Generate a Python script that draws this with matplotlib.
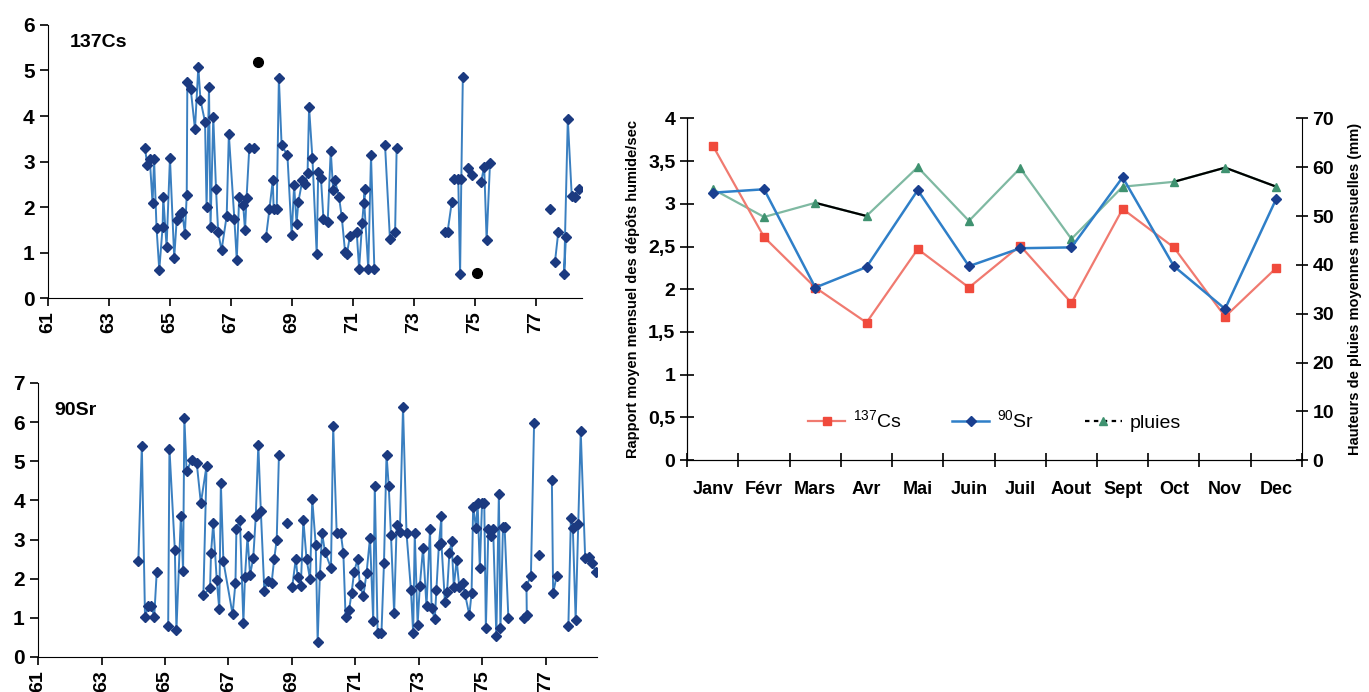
import numpy as np
import matplotlib.pyplot as plt
from matplotlib.lines import Line2D

plt.rcParams['font.family'] = ['Liberation Sans', 'DejaVu Sans']
plt.rcParams['font.weight'] = 'bold'

nan = np.nan

# --- 137Cs time series (year, ratio); nan breaks the line
cs_years = [64.18, 64.26, 64.34, 64.43, 64.48, 64.56, 64.65, 64.76, 64.78, 64.89,
            65.0, 65.14, 65.22, 65.33, 65.4, 65.49, 65.55, 65.57, 65.68, 65.82,
            65.93, 66.0, 66.15, 66.2, 66.28, 66.33, 66.42, 66.51, 66.58, 66.69,
            66.86, 66.93, 67.11, 67.19, 67.27, 67.4, 67.46, 67.51, 67.6, 67.75,
            67.8,
            68.15, 68.26, 68.37, 68.4, 68.5, 68.57, 68.66, 68.85, 68.99, 69.07,
            69.15, 69.21, 69.34, 69.42, 69.51, 69.56, 69.67, 69.81, 69.86, 69.95,
            70.03, 70.17, 70.27, 70.35, 70.4, 70.54, 70.63, 70.74, 70.8, 70.9,
            71.12, 71.2, 71.3, 71.39, 71.37, 71.5, 71.59, 71.7,
            71.9,
            72.05, 72.21, 72.38, 72.43,
            73.2,
            74.02, 74.1, 74.24,
            74.28,
            74.31, 74.45, 74.51, 74.55, 74.6,
            74.7,
            74.78, 74.9,
            75.1,
            75.2, 75.3, 75.38, 75.49,
            76.5,
            77.62, 77.73, 77.98, 77.92, 78.04, 78.17, 78.27, 78.42]
cs_vals = [3.30, 2.92, 3.05, 2.08, 3.05, 1.55, 0.62, 1.57, 2.23, 1.13,
           3.08, 0.89, 1.71, 1.86, 1.90, 1.42, 2.26, 4.75, 4.60, 3.71,
           5.08, 4.35, 3.87, 2.00, 4.64, 1.57, 3.98, 2.39, 1.46, 1.05,
           1.81, 3.60, 1.75, 0.84, 2.23, 2.05, 1.49, 2.19, 3.30, 3.30,
           nan,
           1.35, 1.95, 2.59, 1.95, 1.95, 4.83, 3.36, 3.14, 1.38, 2.48,
           1.64, 2.12, 2.59, 2.50, 2.74, 4.19, 3.07, 0.97, 2.78, 2.63,
           1.75, 1.68, 3.24, 2.37, 2.60, 2.23, 1.79, 1.02, 0.98, 1.36,
           1.46, 0.65, 1.66, 2.40, 2.08, 0.65, 3.14, 0.65,
           nan,
           3.36, 1.31, 1.46, 3.29,
           nan,
           1.46, 1.46, 2.12,
           nan,
           2.61, 2.61, 0.54, 2.61, 4.86,
           nan,
           2.85, 2.70,
           nan,
           2.56, 2.89, 1.27, 2.96,
           nan,
           0.80, 1.46, 1.35, 0.53, 3.93, 2.24, 2.23, 2.39]
cs_single_years = [77.46]
cs_single_vals = [1.95]
cs_black_years = [67.87, 75.06]
cs_black_vals = [5.18, 0.56]

# --- 90Sr time series
sr_years = [64.16, 64.27, 64.37, 64.47, 64.57, 64.66, 64.74,
            64.9,
            65.1, 65.14, 65.31, 65.36, 65.5, 65.57, 65.61, 65.68, 65.84, 66.0,
            66.13, 66.31, 66.21, 66.42, 66.45, 66.52, 66.63, 66.71, 66.76, 66.84,
            67.13, 67.22, 67.25, 67.36, 67.47, 67.52, 67.6, 67.68, 67.78, 67.86,
            67.94, 68.02, 68.13, 68.23, 68.36, 68.44, 68.52, 68.59,
            68.7,
            69.01, 69.12, 69.18, 69.28, 69.36, 69.46, 69.57, 69.64, 69.75, 69.81,
            69.88, 69.95, 70.04, 70.23, 70.3, 70.41, 70.54, 70.62, 70.69, 70.8,
            70.88, 70.96, 71.07, 71.14, 71.25, 71.35, 71.46, 71.56, 71.61, 71.7,
            71.82, 71.9, 71.98, 72.05, 72.12, 72.22, 72.3, 72.4, 72.5, 72.61,
            72.75, 72.82, 72.87, 72.96, 73.03, 73.13, 73.24, 73.35, 73.4, 73.5,
            73.55, 73.63, 73.71, 73.71, 73.82, 73.89, 73.96, 74.03, 74.1, 74.19,
            74.27, 74.38, 74.45, 74.59, 74.66, 74.71, 74.8, 74.85, 74.92, 74.99,
            75.06, 75.11, 75.19, 75.26, 75.34, 75.44, 75.52, 75.57, 75.65, 75.7,
            75.82,
            76.0,
            76.32, 76.4, 76.39, 76.53, 76.63,
            76.9,
            77.19, 77.23, 77.34,
            77.5,
            77.71, 77.79, 77.85, 77.94, 78.02, 78.1, 78.24, 78.35, 78.45, 78.57]
sr_vals = [2.44, 5.40, 1.03, 1.29, 1.29, 1.03, 2.18,
           nan,
           0.79, 5.32, 2.74, 0.69, 3.59, 2.20, 6.10, 4.74, 5.04, 4.95,
           3.93, 4.89, 1.59, 1.76, 2.65, 3.42, 1.97, 1.22, 4.44, 2.44,
           1.09, 1.90, 3.27, 3.50, 0.88, 2.05, 3.08, 2.10, 2.52, 3.59,
           5.42, 3.72, 1.69, 1.94, 1.90, 2.50, 2.99, 5.17,
           nan,
           1.80, 2.50, 2.05, 1.82, 3.50, 2.50, 1.99, 4.03, 2.86, 0.39,
           2.10, 3.16, 2.69, 2.27, 5.89, 3.16, 3.16, 2.65, 1.03, 1.20,
           1.64, 2.18, 2.50, 1.84, 1.56, 2.14, 3.04, 0.93, 4.37, 0.60,
           0.60, 2.40, 5.17, 4.37, 3.12, 1.12, 3.38, 3.20, 6.39, 3.16,
           1.71, 0.60, 3.16, 0.82, 1.82, 2.78, 1.30, 3.27, 1.25, 0.96,
           1.70, 2.86, 3.59, 2.90, 1.41, 1.67, 2.65, 2.95, 1.80, 2.48,
           1.80, 1.88, 1.62, 1.07, 1.63, 3.84, 3.30, 3.93, 2.27, 3.93,
           3.93, 0.73, 3.27, 3.10, 3.27, 0.54, 4.17, 0.73, 3.33, 3.33,
           0.99,
           nan,
           0.99, 1.07, 1.82, 2.07, 5.98,
           nan,
           4.53, 1.63, 2.07,
           nan,
           0.79, 3.55, 3.30, 0.95, 3.40, 5.76, 2.52, 2.55, 2.41, 2.18]
sr_single_years = [68.85, 76.77]
sr_single_vals = [3.42, 2.61]

# --- monthly means
months = ['Janv', 'Févr', 'Mars', 'Avr', 'Mai', 'Juin', 'Juil', 'Aout',
          'Sept', 'Oct', 'Nov', 'Dec']
cs_month = [3.68, 2.61, 2.02, 1.61, 2.47, 2.02, 2.51, 1.84, 2.94, 2.49, 1.68, 2.25]
sr_month = [3.13, 3.17, 2.02, 2.26, 3.16, 2.27, 2.48, 2.49, 3.31, 2.27, 1.77, 3.06]
rain_month = [55.5, 49.8, 52.7, 50.0, 60.0, 49.0, 59.8, 45.3, 56.0, 57.0, 59.9, 56.0]
# months where the printed rain line shows black rather than green
rain_black = [False, False, True, True, False, False, False, False, False,
              True, True, True]

line_blue = '#3a7fc0'
mark_blue = '#1b3a80'
ax_right = {'137Cs': 78.5, '90Sr': 78.6}

fig = plt.figure(figsize=(13.69, 6.92), dpi=100)


def series_panel(ax, years, vals, ymax, label):
    ax.plot(years, vals, color=line_blue, lw=1.4, marker='D', ms=5,
            mfc=mark_blue, mec=mark_blue)
    ax.set_xlim(61, ax_right[label])
    ax.set_ylim(0, ymax)
    ax.set_xticks(range(61, 78, 2))
    ax.set_xticklabels([str(y) for y in range(61, 78, 2)], rotation=90,
                       fontsize=14, fontweight='bold')
    ax.set_yticks(range(0, ymax + 1))
    ax.set_yticklabels([str(v) for v in range(0, ymax + 1)], fontsize=15,
                       fontweight='bold')
    ax.spines['top'].set_visible(False)
    ax.spines['right'].set_visible(False)
    ax.tick_params(direction='out', length=6, width=1.2)


ax1 = fig.add_axes([0.035, 0.569, 0.390, 0.395])
series_panel(ax1, cs_years, cs_vals, 6, '137Cs')
ax1.plot(cs_single_years, cs_single_vals, 'D', ms=5, color=mark_blue)
ax1.plot(cs_black_years, cs_black_vals, 'o', ms=7, color='black')
ax1.text(0.04, 0.965, '137Cs', transform=ax1.transAxes, fontsize=14,
         fontweight='bold', va='top')

ax2 = fig.add_axes([0.0278, 0.0506, 0.408, 0.396])
series_panel(ax2, sr_years, sr_vals, 7, '90Sr')
ax2.plot(sr_single_years, sr_single_vals, 'D', ms=5, color=mark_blue)
ax2.text(0.03, 0.93, '90Sr', transform=ax2.transAxes, fontsize=14,
         fontweight='bold', va='top')

# --- monthly chart
ax3 = fig.add_axes([0.502, 0.335, 0.449, 0.494])
ax4 = ax3.twinx()
x = np.arange(len(months)) + 0.5

rain_b = np.where(rain_black, rain_month, np.nan)
ax4.plot(x, rain_month, color='#7fb9a2', lw=1.6, zorder=1)
ax4.plot(x, rain_b, color='black', lw=1.6, zorder=2)
ax4.plot(x, rain_month, ls='none', marker='^', ms=6,
         mfc='#3f9270', mec='#3f9270', zorder=3)
ax4.set_ylim(0, 70)
ax4.set_yticks(range(0, 71, 10))
ax4.set_yticklabels([str(v) for v in range(0, 71, 10)], fontsize=14,
                    fontweight='bold')
ax4.tick_params(direction='inout', length=8, width=1.2)
ax4.set_ylabel('Hauteurs de pluies moyennes mensuelles (mm)', fontsize=10.5,
               fontweight='bold', labelpad=10)
ax4.spines['top'].set_visible(False)

ax3.set_zorder(ax4.get_zorder() + 1)
ax3.patch.set_visible(False)
ax3.plot(x, cs_month, color='#f07a70', lw=1.6, marker='s', ms=6,
         mfc='#f04a3c', mec='#f04a3c')
ax3.plot(x, sr_month, color='#2f7fc8', lw=1.8, marker='D', ms=5,
         mfc='#1a3f8f', mec='#1a3f8f')
ax3.set_xlim(0, 12)
ax3.set_ylim(0, 4)
ax3.set_xticks(range(0, 13))
ax3.set_xticklabels([])
ax3.set_xticks(x, minor=True)
ax3.set_xticklabels(months, minor=True, fontsize=13, fontweight='bold')
ax3.tick_params(axis='x', which='minor', length=0, pad=15)
ax3.tick_params(axis='x', which='major', direction='inout', length=10, width=1.2)
yt = np.arange(0, 4.01, 0.5)
ax3.set_yticks(yt)
ax3.set_yticklabels([('%g' % v).replace('.', ',') for v in yt], fontsize=14,
                    fontweight='bold')
ax3.tick_params(axis='y', direction='inout', length=10, width=1.2)
ax3.set_ylabel('Rapport moyen mensuel des dépôts humide/sec', fontsize=10.5,
               fontweight='bold', labelpad=6)
ax3.spines['top'].set_visible(False)
ax3.spines['right'].set_visible(False)

handles = [
    Line2D([], [], color='#f07a70', lw=1.6, marker='s', ms=6,
           mfc='#f04a3c', mec='#f04a3c'),
    Line2D([], [], color='#2f7fc8', lw=1.8, marker='D', ms=5,
           mfc='#1a3f8f', mec='#1a3f8f'),
    Line2D([], [], color='black', lw=1.6, ls=(0, (2, 2)), marker='^', ms=6,
           mfc='#3f9270', mec='#3f9270'),
]
ax3.legend(handles, [r'$^{\mathregular{137}}$Cs', r'$^{\mathregular{90}}$Sr', 'pluies'],
           ncol=3, frameon=False, loc='center', bbox_to_anchor=(0.5, 0.115),
           prop={'size': 14, 'weight': 'normal'}, columnspacing=2.6,
           handlelength=1.9, handletextpad=0.4)

fig.savefig('out.png', dpi=100)
